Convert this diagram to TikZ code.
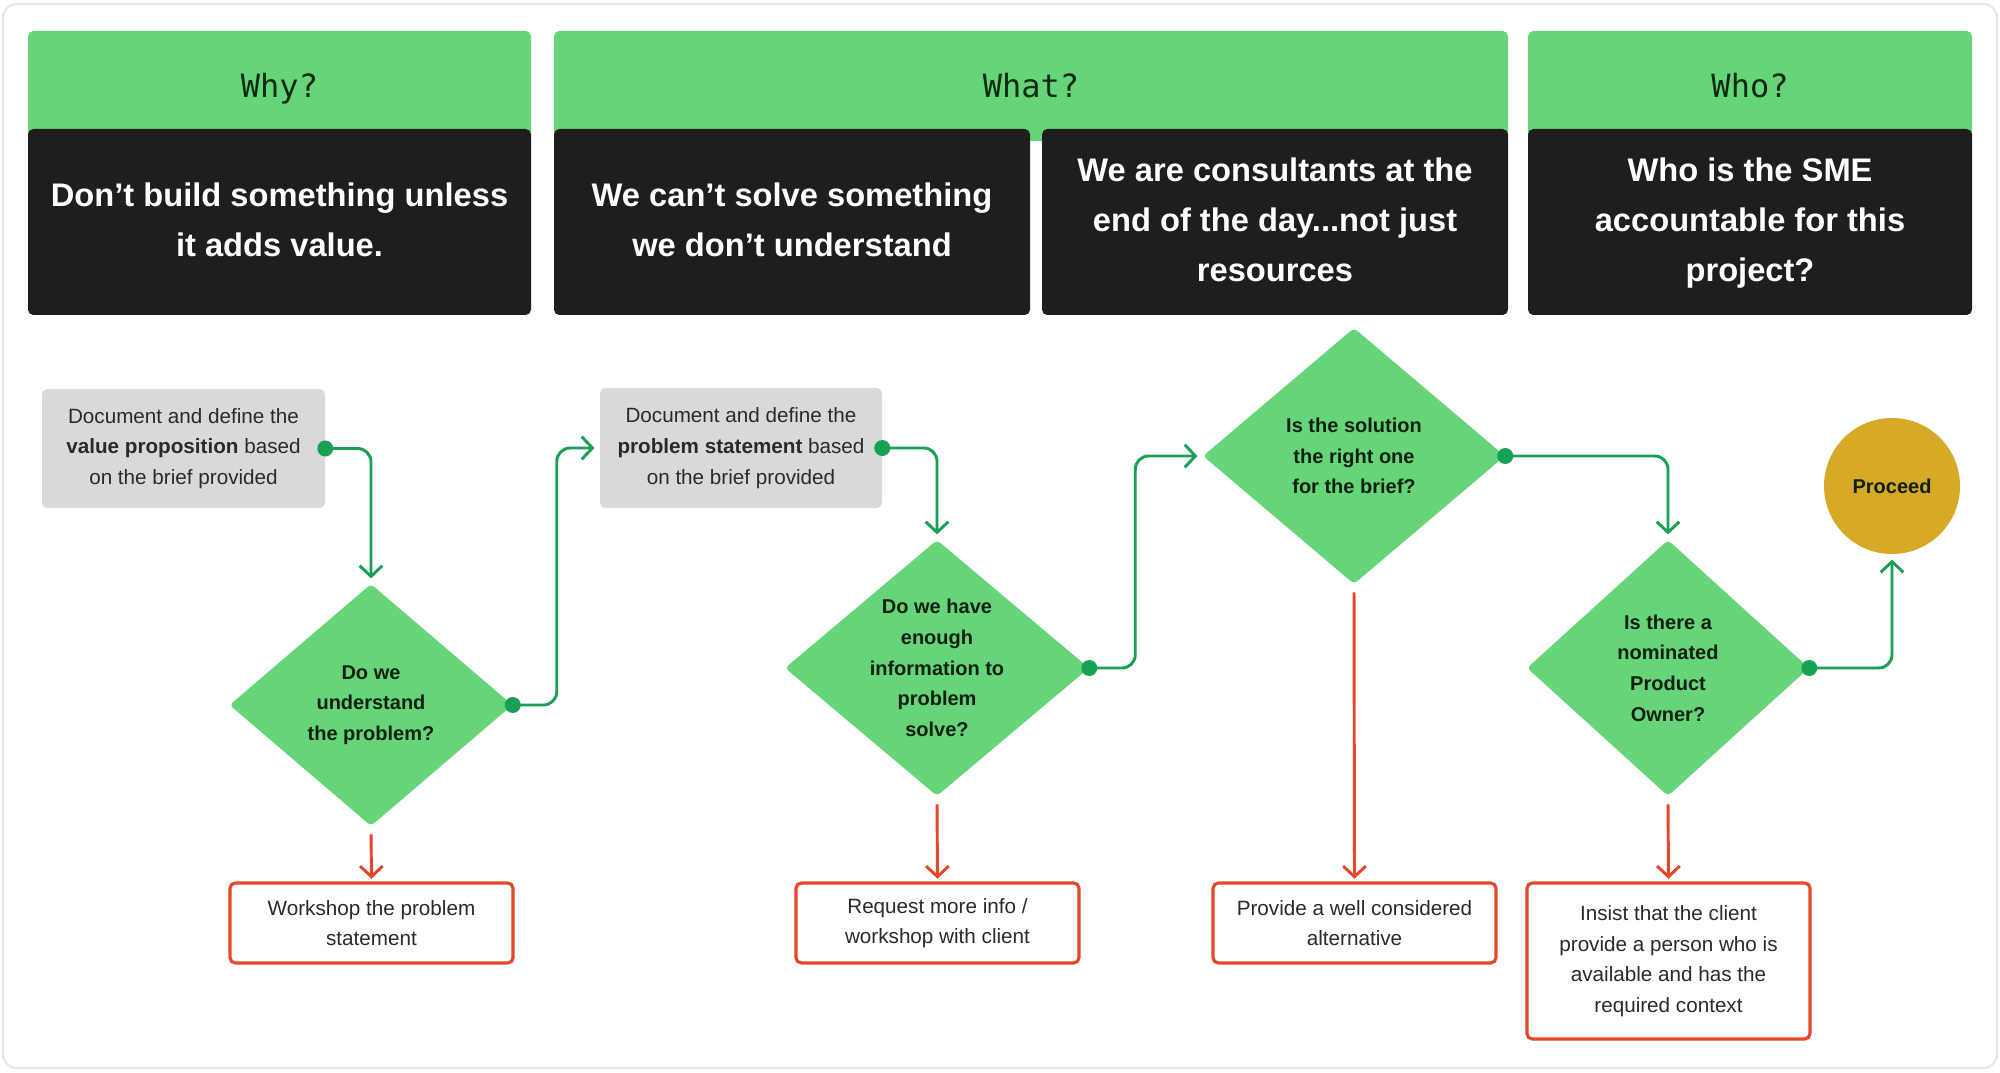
\documentclass[tikz,border=0pt]{standalone}
\usepackage{fontspec}
\setmainfont{Liberation Sans}
\newfontfamily\hdrfont{DejaVu Sans Mono}
\usetikzlibrary{arrows.meta,shapes.geometric}
\definecolor{hgreen}{HTML}{66D57A}
\definecolor{cgreen}{HTML}{18A055}
\definecolor{bbox}{HTML}{1E1E1E}
\definecolor{gbox}{HTML}{D9D9D9}
\definecolor{cred}{HTML}{E5472A}
\definecolor{gold}{HTML}{D6A927}
\definecolor{htext}{HTML}{0E2A12}
\definecolor{dtxt}{HTML}{10200F}
\definecolor{btxt}{HTML}{2A2A2A}
\definecolor{frame}{HTML}{E6E6E6}
\tikzset{
  hdrbox/.style={fill=hgreen, rounded corners=4pt, minimum height=82.5pt, inner sep=0pt,
    text height=17.5pt, text depth=0pt,
    font=\hdrfont\fontsize{24}{28}\selectfont, text=htext},
  blackbox/.style={fill=bbox, rounded corners=4pt, minimum height=139.5pt, inner sep=0pt,
    align=center, text=white, font=\fontsize{24.5}{37.5}\selectfont\bfseries},
  graybox/.style={fill=gbox, rounded corners=4pt, inner sep=0pt, align=center, text=btxt,
    font=\fontsize{15.5}{23}\selectfont},
  redbox/.style={draw=cred, line width=2.4pt, fill=white, rounded corners=4pt, inner sep=0pt,
    minimum width=212.25pt, align=center, text=btxt, font=\fontsize{15.5}{23}\selectfont},
  decision/.style={diamond, fill=hgreen, inner sep=0pt, rounded corners=3pt},
  dtext/.style={align=center, text=dtxt, inner sep=0pt, font=\fontsize{15}{23}\selectfont\bfseries},
  gconn/.style={draw=cgreen, line width=2.2pt, rounded corners=10pt,
    -{Straight Barb[length=8pt, width=17pt, line width=2.2pt]}, shorten >=4pt},
  rconn/.style={draw=cred, line width=2.2pt,
    -{Straight Barb[length=8pt, width=17pt, line width=2.2pt]}, shorten <=6pt, shorten >=2pt},
  gdot/.style={fill=cgreen},
}
\begin{document}
\begin{tikzpicture}[x=0.75pt, y=-0.75pt]
\useasboundingbox (0,0) rectangle (2000,1073);
\fill[white] (0,0) rectangle (2000,1073);
\draw[frame, line width=1.5pt, rounded corners=10pt] (3,4) rectangle (1997,1068);

% headers
\node[hdrbox, minimum width=377.25pt] (hwhy) at (279.5,86) {Why?};
\node[hdrbox, minimum width=715.5pt] (hwhat) at (1031,86) {What?};
\node[hdrbox, minimum width=333pt] (hwho) at (1750,86) {Who?};

\node[blackbox, minimum width=377.25pt] (bwhy) at (279.5,222) {\strut Don’t build something unless\\it adds value.\strut};
\node[blackbox, minimum width=357pt] (bwhat1) at (792,222) {\strut We can’t solve something\\we don’t understand\strut};
\node[blackbox, minimum width=349.5pt] (bwhat2) at (1275,222) {\strut We are consultants at the\\end of the day...not just\\resources\strut};
\node[blackbox, minimum width=333pt] (bwho) at (1750,222) {\strut Who is the SME\\accountable for this\\project?\strut};

% gray boxes
\node[graybox, minimum width=212.25pt, minimum height=89.25pt] (g1) at (183.5,448.5)
  {Document and define the\\\textbf{value proposition} based\\on the brief provided};
\node[graybox, minimum width=211.5pt, minimum height=90pt] (g2) at (741,448)
  {Document and define the\\\textbf{problem statement} based\\on the brief provided};

% decisions
\node[decision, minimum width=212.25pt, minimum height=181.5pt] (d1) at (371,705) {};
\node[decision, minimum width=228pt, minimum height=192pt] (d2) at (937,668) {};
\node[decision, minimum width=226.5pt, minimum height=192pt] (d3) at (1354,456) {};
\node[decision, minimum width=211.5pt, minimum height=192pt] (d4) at (1668,668) {};
\node[dtext] (d1t) at (d1) {Do we\\understand\\the problem?};
\node[dtext] (d2t) at (d2) {Do we have\\enough\\information to\\problem\\solve?};
\node[dtext] (d3t) at (d3) {Is the solution\\the right one\\for the brief?};
\node[dtext] (d4t) at (d4) {Is there a\\nominated\\Product\\Owner?};

% proceed
\node[circle, fill=gold, minimum size=102pt, inner sep=0pt, text=dtxt,
  font=\fontsize{15}{18}\selectfont\bfseries] (pr) at (1892,486) {Proceed};

% red boxes
\node[redbox, minimum height=60pt] (r1) at (371.5,923) {Workshop the problem\\statement};
\node[redbox, minimum height=60pt] (r2) at (937.5,923) {Request more info /\\workshop with client};
\node[redbox, minimum height=60pt] (r3) at (1354.5,923) {Provide a well considered\\alternative};
\node[redbox, minimum height=117pt] (r4) at (1668.5,961) {Insist that the client\\provide a person who is\\available and has the\\required context};

% green connectors
\draw[gconn] (g1.east) -| (d1.north);
\draw[gconn] (d1.east) -- ++(44,0) |- (g2.west);
\draw[gconn] (g2.east) -| (d2.north);
\draw[gconn] (d2.east) -- ++(46,0) |- (d3.west);
\draw[gconn] (d3.east) -| (d4.north);
\draw[gconn] (d4.east) -| (pr.south);
\fill[gdot] (g1.east) circle (6pt);
\fill[gdot] (d1.east) circle (6pt);
\fill[gdot] (g2.east) circle (6pt);
\fill[gdot] (d2.east) circle (6pt);
\fill[gdot] (d3.east) circle (6pt);
\fill[gdot] (d4.east) circle (6pt);

% red connectors
\draw[rconn] (d1.south) -- (r1.north);
\draw[rconn] (d2.south) -- (r2.north);
\draw[rconn] (d3.south) -- (r3.north);
\draw[rconn] (d4.south) -- (r4.north);
\end{tikzpicture}
\end{document}
